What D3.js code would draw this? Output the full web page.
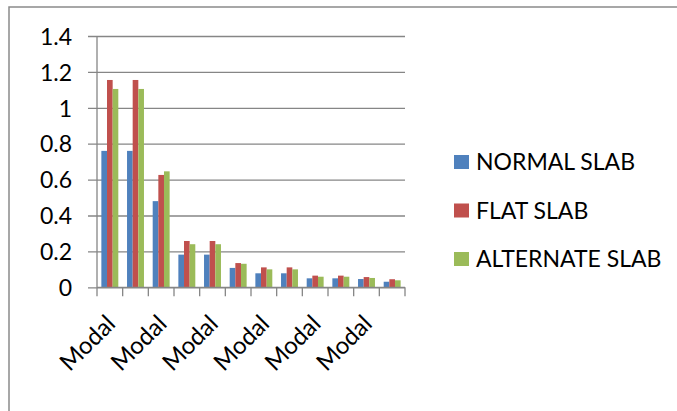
<!DOCTYPE html>
<html>
<head>
<meta charset="utf-8">
<script src="https://cdn.jsdelivr.net/npm/d3@7"></script>
<style>
  html, body { margin: 0; padding: 0; background: #fff; }
  svg { display: block; font-family: Lato, "Open Sans", sans-serif; }
</style>
</head>
<body>
<svg id="chart" width="677" height="411"></svg>
<script>
// Modal response of three slab systems
const categories = ["Modal", "Modal", "Modal", "Modal", "Modal", "Modal",
                    "Modal", "Modal", "Modal", "Modal", "Modal", "Modal"];
const seriesNames = ["NORMAL SLAB", "FLAT SLAB", "ALTERNATE SLAB"];
const normalSlab    = [0.76, 0.76, 0.48, 0.182, 0.182, 0.108, 0.078, 0.078, 0.050, 0.050, 0.046, 0.031];
const flatSlab      = [1.155, 1.155, 0.626, 0.258, 0.258, 0.135, 0.111, 0.111, 0.065, 0.065, 0.057, 0.045];
const alternateSlab = [1.105, 1.105, 0.646, 0.240, 0.240, 0.131, 0.100, 0.100, 0.059, 0.059, 0.052, 0.039];
const yTicks = [0, 0.2, 0.4, 0.6, 0.8, 1, 1.2, 1.4];
const colors = ["#4F81BD", "#C0504D", "#9BBB59"];

const seriesValues = [normalSlab, flatSlab, alternateSlab];

const svg = d3.select("#chart");
const plot = { left: 97, right: 405, top: 36, bottom: 287.3 };

const x = d3.scaleBand()
  .domain(d3.range(categories.length))
  .range([plot.left, plot.right])
  .paddingInner(0.34)
  .paddingOuter(0.17);

const xs = d3.scaleBand()
  .domain(d3.range(seriesNames.length))
  .range([0, x.bandwidth()]);

const y = d3.scaleLinear()
  .domain([0, 1.4])
  .range([plot.bottom, plot.top]);

// Outer frame (top and left edges)
svg.append("path")
  .attr("d", "M9,411 V7 H677")
  .attr("fill", "none")
  .attr("stroke", "#8a8a8a")
  .attr("stroke-width", 1.5);

// Horizontal gridlines and y labels
const yAxis = d3.axisLeft(y)
  .tickValues(yTicks)
  .tickFormat(d3.format("~g"))
  .tickSize(-(plot.right - plot.left))
  .tickPadding(0);

const gy = svg.append("g")
  .attr("transform", `translate(${plot.left},0)`)
  .call(yAxis);
gy.select(".domain").remove();
gy.selectAll(".tick line")
  .attr("x1", -9)
  .attr("stroke", "#868686")
  .attr("stroke-width", 1.3);
gy.selectAll(".tick text")
  .attr("x", -25)
  .attr("dy", "0.36em")
  .attr("fill", "#000")
  .style("font-size", "23px")
  .style("font-family", "Lato, 'Open Sans', sans-serif");

// Bars
const groups = svg.append("g")
  .selectAll("g")
  .data(seriesValues)
  .join("g")
  .attr("fill", (d, i) => colors[i]);

groups.each(function (vals, si) {
  d3.select(this).selectAll("rect")
    .data(vals)
    .join("rect")
    .attr("x", (v, ci) => x(ci) + xs(si))
    .attr("y", v => y(v))
    .attr("width", xs.bandwidth())
    .attr("height", v => y(0) - y(v));
});

// Vertical axis line
svg.append("line")
  .attr("x1", plot.left).attr("x2", plot.left)
  .attr("y1", plot.top).attr("y2", plot.bottom)
  .attr("stroke", "#868686").attr("stroke-width", 1.3);

// Category axis: boundary ticks and rotated labels
const step = (plot.right - plot.left) / categories.length;
const boundaries = d3.range(categories.length + 1).map(i => plot.left + i * step);
svg.append("line")
  .attr("x1", plot.left).attr("x2", plot.right)
  .attr("y1", plot.bottom).attr("y2", plot.bottom)
  .attr("stroke", "#868686").attr("stroke-width", 1.3);
svg.append("g").selectAll("line")
  .data(boundaries)
  .join("line")
  .attr("x1", d => d).attr("x2", d => d)
  .attr("y1", plot.bottom).attr("y2", plot.bottom + 9)
  .attr("stroke", "#868686").attr("stroke-width", 1.3);

svg.append("g").selectAll("text")
  .data(categories.map((c, i) => ({ c, i })).filter(d => d.i % 2 === 0))
  .join("text")
  .attr("transform", d => `translate(${x(d.i) + x.bandwidth() / 2 + 7},${plot.bottom + 38}) rotate(-45)`)
  .attr("text-anchor", "end")
  .style("font-size", "24px")
  .attr("fill", "#000")
  .text(d => d.c);

// Legend
const legend = svg.append("g")
  .selectAll("g")
  .data(seriesNames)
  .join("g")
  .attr("transform", (d, i) => `translate(454,${162 + i * 48.5})`);
legend.append("rect")
  .attr("x", 0).attr("y", -7)
  .attr("width", 15).attr("height", 14)
  .attr("fill", (d, i) => colors[i]);
legend.append("text")
  .attr("x", 22)
  .attr("dy", "0.36em")
  .style("font-size", "23px")
  .attr("fill", "#000")
  .text(d => d);
</script>
</body>
</html>
